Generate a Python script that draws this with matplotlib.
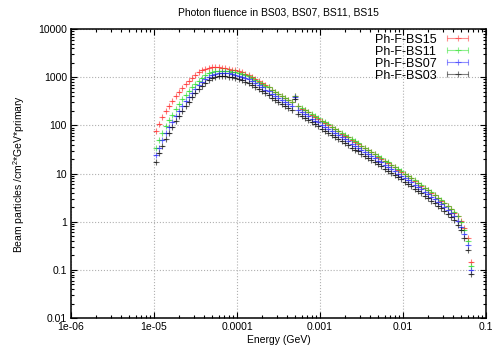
import numpy as np
import matplotlib
matplotlib.use("Agg")
from matplotlib import pyplot as plt
from matplotlib.ticker import LogLocator, FuncFormatter, NullFormatter
from matplotlib.legend_handler import HandlerErrorbar

plt.rcParams['font.family'] = ['Liberation Sans', 'DejaVu Sans']
plt.rcParams['mathtext.fontset'] = 'custom'
plt.rcParams['mathtext.rm'] = 'Liberation Sans'
plt.rcParams['mathtext.it'] = 'Liberation Sans'

# bin centres (GeV), 25 log bins per decade
energy = [
    1.047e-5, 1.148e-5, 1.259e-5, 1.380e-5, 1.514e-5, 1.660e-5, 1.820e-5, 1.995e-5, 2.188e-5, 2.399e-5,
    2.630e-5, 2.884e-5, 3.162e-5, 3.467e-5, 3.802e-5, 4.169e-5, 4.571e-5, 5.012e-5, 5.495e-5, 6.026e-5,
    6.607e-5, 7.244e-5, 7.943e-5, 8.710e-5, 9.550e-5,
    1.047e-4, 1.148e-4, 1.259e-4, 1.380e-4, 1.514e-4, 1.660e-4, 1.820e-4, 1.995e-4, 2.188e-4, 2.399e-4,
    2.630e-4, 2.884e-4, 3.162e-4, 3.467e-4, 3.802e-4, 4.169e-4, 4.571e-4, 5.012e-4, 5.495e-4, 6.026e-4,
    6.607e-4, 7.244e-4, 7.943e-4, 8.710e-4, 9.550e-4,
    1.047e-3, 1.148e-3, 1.259e-3, 1.380e-3, 1.514e-3, 1.660e-3, 1.820e-3, 1.995e-3, 2.188e-3, 2.399e-3,
    2.630e-3, 2.884e-3, 3.162e-3, 3.467e-3, 3.802e-3, 4.169e-3, 4.571e-3, 5.012e-3, 5.495e-3, 6.026e-3,
    6.607e-3, 7.244e-3, 7.943e-3, 8.710e-3, 9.550e-3,
    1.047e-2, 1.148e-2, 1.259e-2, 1.380e-2, 1.514e-2, 1.660e-2, 1.820e-2, 1.995e-2, 2.188e-2, 2.399e-2,
    2.630e-2, 2.884e-2, 3.162e-2, 3.467e-2, 3.802e-2, 4.169e-2, 4.571e-2, 5.012e-2, 5.495e-2, 6.026e-2,
    6.607e-2,
]

bs15 = [
    75.9, 107, 148, 200, 257, 324, 407, 501, 603, 724,
    851, 977, 1122, 1259, 1380, 1479, 1567, 1622, 1641, 1622,
    1585, 1549, 1496, 1445, 1380, 1318, 1259, 1175, 1096, 1000,
    912, 832, 759, 676, 617, 550, 501, 457, 407, 372,
    331, 302, 407, 251, 224, 204, 186, 166, 151, 138,
    123, 112, 102, 91.2, 83.2, 75.9, 67.6, 61.7, 56.2, 50.1,
    45.7, 41.7, 37.2, 33.9, 30.2, 27.5, 25.1, 22.4, 20.4, 18.2,
    16.6, 14.8, 13.5, 12.0, 11.0, 9.77, 8.71, 7.94, 7.08, 6.31,
    5.62, 5.01, 4.47, 3.98, 3.55, 3.09, 2.75, 2.40, 2.09, 1.82,
    1.55, 1.29, 1.05, 0.741, 0.457, 0.148,
]

bs11 = [
    33.9, 49.0, 69.2, 95.5, 129, 166, 219, 275, 347, 427,
    525, 617, 741, 851, 977, 1096, 1216, 1288, 1349, 1365,
    1365, 1365, 1334, 1303, 1259, 1230, 1175, 1109, 1047, 955,
    881, 813, 741, 668, 617, 550, 501, 457, 407, 372,
    331, 302, 407, 257, 229, 209, 191, 170, 155, 141,
    126, 115, 105, 93.3, 85.1, 77.6, 69.2, 63.1, 57.5, 51.3,
    46.8, 42.7, 38.0, 34.7, 30.9, 28.2, 25.7, 22.9, 20.9, 18.6,
    17.0, 15.1, 13.8, 12.3, 11.2, 10.0, 8.91, 8.13, 7.24, 6.46,
    5.75, 5.13, 4.57, 4.07, 3.63, 3.16, 2.82, 2.45, 2.14, 1.86,
    1.58, 1.29, 0.977, 0.676, 0.398, 0.123,
]

bs07 = [
    24.0, 34.7, 50.1, 69.2, 93.3, 120, 158, 200, 251, 316,
    389, 468, 562, 676, 794, 912, 1035, 1122, 1189, 1230,
    1230, 1230, 1202, 1175, 1122, 1084, 1035, 966, 902, 822,
    750, 684, 624, 556, 507, 452, 412, 376, 335, 305,
    272, 248, 380, 209, 186, 170, 155, 138, 126, 115,
    102, 93.3, 85.1, 75.9, 69.2, 63.1, 56.2, 51.3, 46.8, 41.7,
    38.0, 34.7, 30.9, 28.2, 25.1, 22.9, 20.9, 18.6, 17.0, 15.1,
    13.8, 12.3, 11.2, 10.0, 9.12, 8.13, 7.24, 6.61, 5.89, 5.25,
    4.68, 4.17, 3.72, 3.31, 2.95, 2.57, 2.29, 2.00, 1.74, 1.51,
    1.29, 1.05, 0.794, 0.562, 0.331, 0.100,
]

bs03 = [
    17.8, 26.3, 38.0, 52.5, 70.8, 93.3, 123, 158, 200, 251,
    309, 380, 468, 562, 661, 759, 861, 955, 1012, 1047,
    1047, 1047, 1012, 989, 944, 902, 861, 804, 750, 684,
    624, 569, 519, 462, 422, 376, 343, 313, 279, 254,
    226, 207, 347, 174, 155, 141, 129, 115, 105, 95.5,
    85.1, 77.6, 70.8, 63.1, 57.5, 52.5, 46.8, 42.7, 38.9, 34.7,
    31.6, 28.8, 25.7, 23.4, 20.9, 19.1, 17.4, 15.5, 14.1, 12.6,
    11.5, 10.2, 9.33, 8.32, 7.59, 6.76, 6.03, 5.50, 4.90, 4.37,
    3.89, 3.47, 3.09, 2.75, 2.45, 2.14, 1.91, 1.66, 1.45, 1.26,
    1.07, 0.871, 0.661, 0.468, 0.263, 0.0832,
]

labels = ['Ph-F-BS15', 'Ph-F-BS11', 'Ph-F-BS07', 'Ph-F-BS03']
colors = ['#ff2020', '#20e020', '#2020ff', '#000000']


def main():
    e = np.asarray(energy)
    half = 10 ** 0.02  # half a bin in log space
    xerr = [e * (1 - 1 / half), e * (half - 1)]

    fig = plt.figure(figsize=(5, 3.5), dpi=100)
    ax = fig.add_axes([0.142, 0.091, 0.830, 0.826])

    handles = []
    for vals, lab, col in zip([bs15, bs11, bs07, bs03], labels, colors):
        ax.errorbar(e, vals, xerr=xerr, fmt='+', color=col, ms=4, mew=0.8,
                    elinewidth=0.8, capsize=0, alpha=0.6)
        h = ax.errorbar([np.nan], [np.nan], xerr=[1], fmt='+', color=col, ms=4,
                        mew=0.8, elinewidth=0.8, capsize=2.5, alpha=0.5, label=lab)
        handles.append(h)

    ax.set_xscale('log')
    ax.set_yscale('log')
    ax.set_xlim(1e-6, 0.1)
    ax.set_ylim(0.01, 10000)

    fmt = FuncFormatter(lambda v, p: '%g' % v)
    ax.xaxis.set_major_locator(LogLocator(base=10, numticks=10))
    ax.yaxis.set_major_locator(LogLocator(base=10, numticks=10))
    ax.xaxis.set_major_formatter(fmt)
    ax.yaxis.set_major_formatter(fmt)
    ax.xaxis.set_minor_locator(LogLocator(base=10, subs=np.arange(2, 10), numticks=20))
    ax.yaxis.set_minor_locator(LogLocator(base=10, subs=np.arange(2, 10), numticks=20))
    ax.xaxis.set_minor_formatter(NullFormatter())
    ax.yaxis.set_minor_formatter(NullFormatter())

    ax.tick_params(which='both', direction='in', top=True, right=True, labelsize=7.5, width=0.8)
    ax.tick_params(which='major', length=4, pad=3)
    ax.tick_params(which='minor', length=2)
    ax.grid(which='major', color='#b0b0b0', linestyle=':', linewidth=0.8)
    for s in ax.spines.values():
        s.set_linewidth(1.1)

    ax.set_title('Photon fluence in BS03, BS07, BS11, BS15', fontsize=7.5, pad=10)
    ax.set_xlabel('Energy (GeV)', fontsize=7.5, labelpad=2)
    ax.set_ylabel('Beam particles /cm$^2$*GeV*primary', fontsize=7.5, labelpad=8)

    ax.legend(handles=handles, loc='upper right', bbox_to_anchor=(0.975, 0.99),
              frameon=False, markerfirst=False,
              fontsize=9, handlelength=2.6, labelspacing=0.0, borderaxespad=0.0,
              borderpad=0.15, handletextpad=0.4,
              handler_map={type(handles[0]): HandlerErrorbar(xerr_size=0.85)})

    fig.savefig('out.png', dpi=100)


if __name__ == "__main__":
    main()
